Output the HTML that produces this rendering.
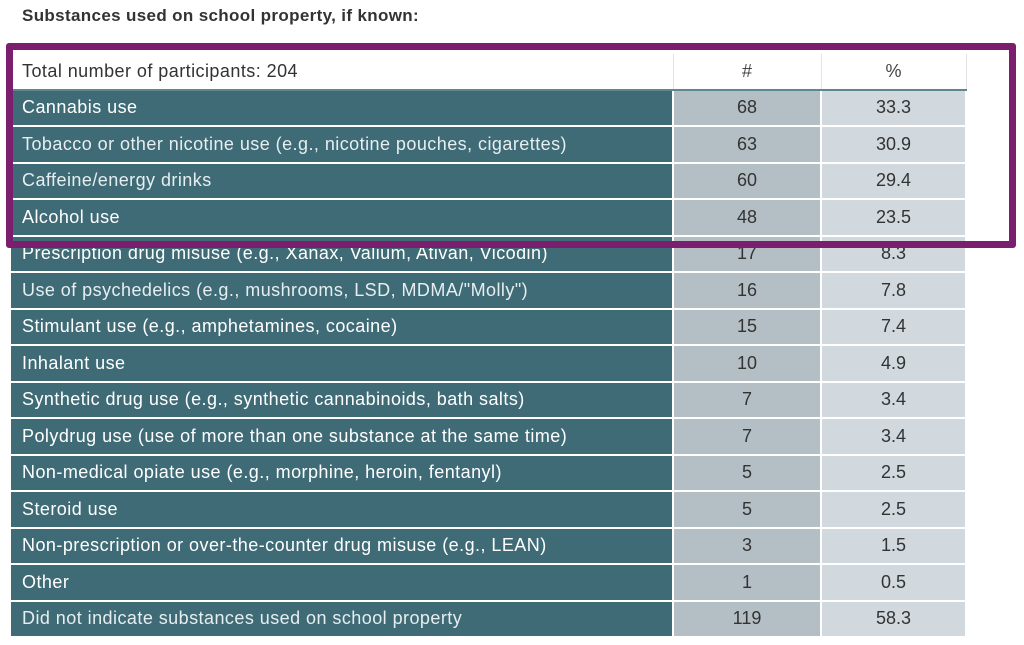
<!DOCTYPE html>
<html><head><meta charset="utf-8"><style>
body{margin:0;width:1024px;height:645px;background:#fff;position:relative;overflow:hidden;font-family:"Liberation Sans",sans-serif;}
.t{position:absolute;left:22px;top:6px;font-size:17px;font-weight:bold;color:#333;letter-spacing:0.35px;}
table{position:absolute;left:11px;top:52px;border-collapse:collapse;}
td{height:34.5px;padding:0;font-size:18px;border:2px solid #fff;border-left:0;letter-spacing:0.45px;}
td.a{width:662px;background:#3f6b77;color:#fff;padding-left:11px;box-sizing:border-box;}
td.b{width:146px;background:#b4bfc5;color:#333;text-align:center;letter-spacing:0;}
td.c{width:143px;background:#d1d9de;color:#333;text-align:center;letter-spacing:0;}
td.l{font-weight:normal;color:#e6eef0;}
tr.h td{background:#fff;color:#444;border-bottom:2px solid #5f8792;border-right:1px solid #e3e3e3;}
tr.h td.a{font-weight:normal;color:#333;}
.a{font-weight:normal;}
.box{position:absolute;left:6px;top:43px;width:996px;height:191px;border:7px solid #7b1e6e;border-radius:3px;}
</style></head><body>
<div class="t">Substances used on school property, if known:</div>
<table>
<tr class="h"><td class="a">Total number of participants: 204</td><td class="b">#</td><td class="c">%</td></tr>
<tr><td class="a">Cannabis use</td><td class="b">68</td><td class="c">33.3</td></tr>
<tr><td class="a l">Tobacco or other nicotine use (e.g., nicotine pouches, cigarettes)</td><td class="b">63</td><td class="c">30.9</td></tr>
<tr><td class="a l">Caffeine/energy drinks</td><td class="b">60</td><td class="c">29.4</td></tr>
<tr><td class="a">Alcohol use</td><td class="b">48</td><td class="c">23.5</td></tr>
<tr><td class="a">Prescription drug misuse (e.g., Xanax, Valium, Ativan, Vicodin)</td><td class="b">17</td><td class="c">8.3</td></tr>
<tr><td class="a l">Use of psychedelics (e.g., mushrooms, LSD, MDMA/"Molly")</td><td class="b">16</td><td class="c">7.8</td></tr>
<tr><td class="a">Stimulant use (e.g., amphetamines, cocaine)</td><td class="b">15</td><td class="c">7.4</td></tr>
<tr><td class="a">Inhalant use</td><td class="b">10</td><td class="c">4.9</td></tr>
<tr><td class="a">Synthetic drug use (e.g., synthetic cannabinoids, bath salts)</td><td class="b">7</td><td class="c">3.4</td></tr>
<tr><td class="a">Polydrug use (use of more than one substance at the same time)</td><td class="b">7</td><td class="c">3.4</td></tr>
<tr><td class="a">Non-medical opiate use (e.g., morphine, heroin, fentanyl)</td><td class="b">5</td><td class="c">2.5</td></tr>
<tr><td class="a">Steroid use</td><td class="b">5</td><td class="c">2.5</td></tr>
<tr><td class="a">Non-prescription or over-the-counter drug misuse (e.g., LEAN)</td><td class="b">3</td><td class="c">1.5</td></tr>
<tr><td class="a">Other</td><td class="b">1</td><td class="c">0.5</td></tr>
<tr><td class="a l">Did not indicate substances used on school property</td><td class="b">119</td><td class="c">58.3</td></tr>
</table>
<div class="box"></div>
</body></html>
